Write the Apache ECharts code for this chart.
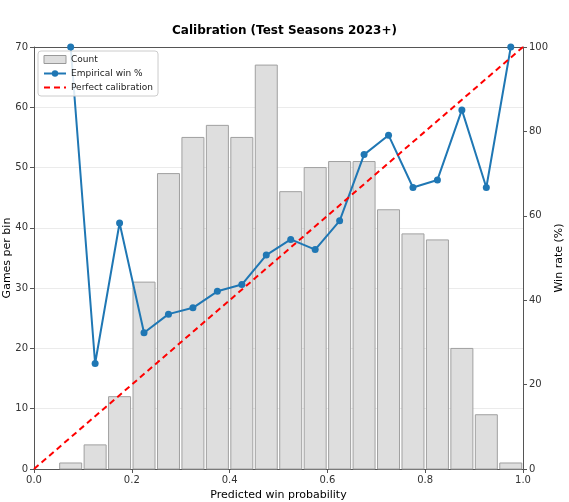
<!DOCTYPE html>
<html><head><meta charset="utf-8">
<script src="https://cdn.jsdelivr.net/npm/echarts@6/dist/echarts.min.js"></script>
<style>html,body{margin:0;padding:0;background:#fff}#c{width:569px;height:502px}</style>
</head><body><div id="c"></div>
<script>
const binCenters = [0.075,0.125,0.175,0.225,0.275,0.325,0.375,0.425,0.475,0.525,0.575,0.625,0.675,0.725,0.775,0.825,0.875,0.925,0.975];
const counts = [1,4,12,31,49,55,57,55,67,46,50,51,51,43,39,38,20,9,1];
const winPct = [100,25,58.3,32.3,36.7,38.2,42.1,43.7,50.7,54.4,52.0,58.8,74.5,79.1,66.7,68.5,85.1,66.7,100];
const perfect = [[0,0],[1,100]];
const countTicks = [0,10,20,30,40,50,60,70];
const pctTicks = [0,20,40,60,80,100];
const xTicks = [0,0.2,0.4,0.6,0.8,1.0];
const BAR_W = 0.045;

const font = 'DejaVu Sans';
const chart = echarts.init(document.getElementById('c'));
chart.setOption({
  animation:false,
  textStyle:{fontFamily:font},
  title:{text:'Calibration (Test Seasons 2023+)',left:'center',top:20,
    textStyle:{fontFamily:font,fontSize:12,fontWeight:'bold',color:'#000'}},
  legend:{left:38,top:51,orient:'vertical',backgroundColor:'rgba(255,255,255,0.85)',
    borderColor:'#cccccc',borderWidth:1,borderRadius:3,padding:[4,5],itemGap:5,
    itemWidth:22,itemHeight:8,textStyle:{fontFamily:font,fontSize:9,color:'#222'},
    data:[{name:'Count',icon:'rect',itemStyle:{color:'#dedede',borderColor:'#999',borderWidth:1}},
          {name:'Empirical win %'},
          {name:'Perfect calibration',itemStyle:{opacity:0}}]},
  grid:{left:34,right:46,top:47,bottom:33,containLabel:false,outerBoundsMode:'none'},
  xAxis:[{type:'value',min:0,max:1,interval:0.2,position:'bottom',
    name:'Predicted win probability',nameLocation:'middle',nameGap:20,
    nameTextStyle:{fontFamily:font,fontSize:11,color:'#000'},
    axisLine:{onZero:false,lineStyle:{color:'#555',width:1}},
    axisTick:{show:true,length:4,lineStyle:{color:'#555'}},
    axisLabel:{fontFamily:font,fontSize:10,color:'#333',margin:6,formatter:v=>v.toFixed(1)},
    splitLine:{show:false}},
    {type:'value',min:0,max:1,position:'top',axisLine:{show:true,onZero:false,lineStyle:{color:'#555'}},
     axisTick:{show:false},axisLabel:{show:false},splitLine:{show:false}}],
  yAxis:[{type:'value',min:0,max:70,interval:10,position:'left',
    name:'Games per bin',nameLocation:'middle',nameGap:21,nameMoveOverlap:false,
    nameTextStyle:{fontFamily:font,fontSize:11,color:'#000'},
    axisLine:{show:true,onZero:false,lineStyle:{color:'#555'}},
    axisTick:{show:true,length:4,lineStyle:{color:'#555'}},
    axisLabel:{fontFamily:font,fontSize:10,color:'#333',margin:6},
    splitLine:{show:true,lineStyle:{color:'#ebebeb',width:1}}},
    {type:'value',min:0,max:100,interval:20,position:'right',
    name:'Win rate (%)',nameLocation:'middle',nameGap:31,nameRotate:90,nameMoveOverlap:false,
    nameTextStyle:{fontFamily:font,fontSize:11,color:'#000'},
    axisLine:{show:true,onZero:false,lineStyle:{color:'#555'}},
    axisTick:{show:true,length:4,lineStyle:{color:'#555'}},
    axisLabel:{fontFamily:font,fontSize:10,color:'#333',margin:6},
    splitLine:{show:false}}],
  series:[
    {name:'Count',type:'custom',xAxisIndex:0,yAxisIndex:0,z:1,
     itemStyle:{color:'#dedede'},
     data:binCenters.map((c,i)=>[c,counts[i]]),
     renderItem:function(params,api){
       const c=api.value(0), v=api.value(1);
       const p0=api.coord([c-BAR_W/2,v]);
       const p1=api.coord([c+BAR_W/2,0]);
       return {type:'rect',shape:{x:p0[0],y:p0[1],width:p1[0]-p0[0],height:p1[1]-p0[1]},
         style:{fill:'#dedede',stroke:'#a0a0a0',lineWidth:1}};
     }},
    {name:'Empirical win %',type:'line',yAxisIndex:1,z:3,
     data:binCenters.map((c,i)=>[c,winPct[i]]),
     symbol:'circle',symbolSize:7,itemStyle:{color:'#1f77b4'},
     lineStyle:{color:'#1f77b4',width:2}},
    {name:'Perfect calibration',type:'line',yAxisIndex:1,z:4,
     data:perfect,symbol:'none',itemStyle:{color:'#ff0000'},
     lineStyle:{color:'#ff0000',width:2,type:[6,4]}}
  ]
});
</script></body></html>
